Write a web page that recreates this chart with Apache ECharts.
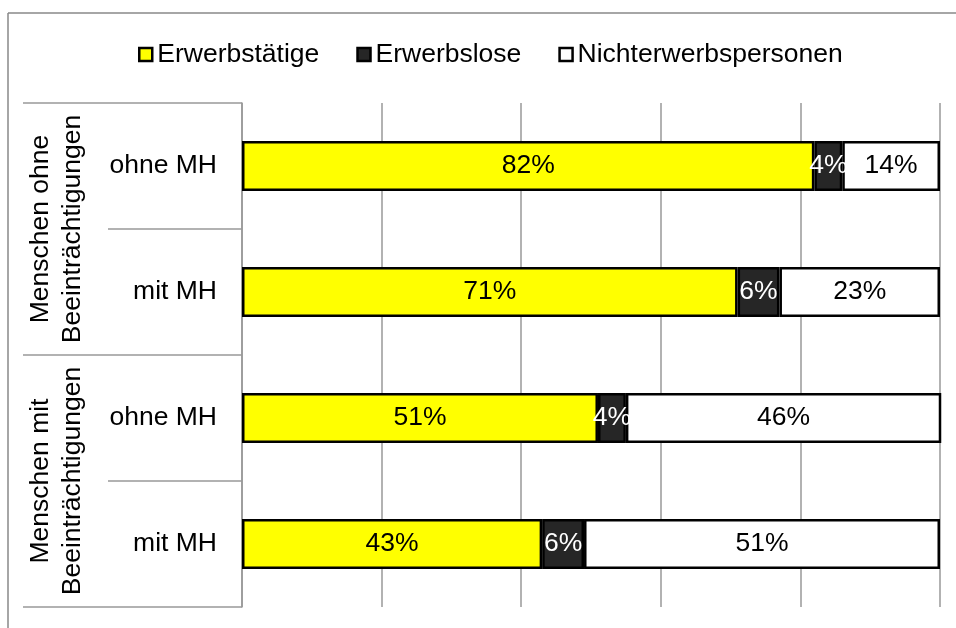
<!DOCTYPE html>
<html><head><meta charset="utf-8">
<script src="https://cdn.jsdelivr.net/npm/echarts@6/dist/echarts.min.js"></script>
<style>html,body{margin:0;padding:0;background:#fff}#c{width:956px;height:628px}</style>
</head><body><div id="c"></div>
<script>
const categories = ['ohne MH', 'mit MH', 'ohne MH', 'mit MH'];
const groups = ['Menschen ohne\nBeeinträchtigungen', 'Menschen mit\nBeeinträchtigungen'];
const erwerbstaetige = [82, 71, 51, 43];
const erwerbslose = [4, 6, 4, 6];
const nichterwerbspersonen = [14, 23, 46, 51];
const seriesNames = ['Erwerbstätige', 'Erwerbslose', 'Nichterwerbspersonen'];
const xTicks = [0, 20, 40, 60, 80, 100];

const FONT = 'Liberation Sans, Arial, sans-serif';
const FS = 26.5;
const chart = echarts.init(document.getElementById('c'));
function mk(name, data, color, labelColor) {
  return {
    name, type: 'bar', stack: 'total', data, barWidth: 50,
    yAxisIndex: 0,
    itemStyle: { color, borderColor: '#000', borderWidth: 2.5 },
    label: { show: true, position: 'inside', formatter: '{c}%', color: labelColor,
      fontFamily: FONT, fontSize: FS }
  };
}
chart.setOption({
  animation: false,
  graphic: [
    { type: 'line', shape: { x1: 8, y1: 13, x2: 956, y2: 13 }, style: { stroke: '#888', lineWidth: 1.5 } },
    { type: 'line', shape: { x1: 8, y1: 13, x2: 8, y2: 628 }, style: { stroke: '#888', lineWidth: 1.5 } }
  ],
  legend: {
    top: 36, left: 133, itemWidth: 13, itemHeight: 13, itemGap: 37,
    icon: 'rect',
    itemStyle: { borderWidth: 2.5, borderColor: '#000' },
    textStyle: { fontFamily: FONT, fontSize: 26.5, color: '#000', padding: [0, 0, 0, 0] },
    data: seriesNames
  },
  grid: { left: 242, right: 16, top: 103, bottom: 21, containLabel: false },
  xAxis: {
    type: 'value', min: xTicks[0], max: xTicks[xTicks.length - 1], interval: 20,
    axisLabel: { show: false }, axisLine: { show: false }, axisTick: { show: false },
    splitLine: { show: true, lineStyle: { color: '#999', width: 1.5 } }
  },
  yAxis: [
    {
      type: 'category', data: categories, inverse: true, position: 'left',
      axisLine: { show: true, lineStyle: { color: '#999', width: 1.5 } },
      axisTick: { show: true, interval: 0, length: 134, lineStyle: { color: '#999', width: 1.5 } },
      axisLabel: { interval: 0, fontFamily: FONT, fontSize: FS, color: '#000', margin: 25 }
    },
    {
      type: 'category', data: groups, inverse: true, position: 'left', offset: 0,
      axisLine: { show: false },
      axisTick: { show: true, interval: 0, length: 219, lineStyle: { color: '#999', width: 1.5 } },
      axisLabel: { interval: 0, fontFamily: FONT, fontSize: FS, color: '#000', rotate: 90, margin: 185,
        lineHeight: 32, align: 'center', verticalAlign: 'middle' }
    }
  ],
  series: [
    mk(seriesNames[0], erwerbstaetige, '#ffff00', '#000'),
    mk(seriesNames[1], erwerbslose, '#262626', '#fff'),
    mk(seriesNames[2], nichterwerbspersonen, '#ffffff', '#000')
  ]
});
</script></body></html>
